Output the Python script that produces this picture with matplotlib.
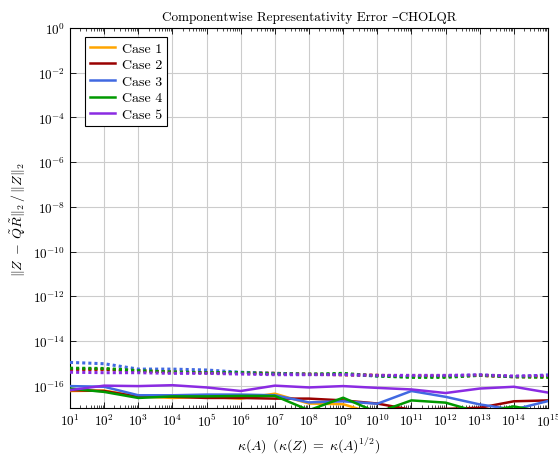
import matplotlib
matplotlib.use("Agg")
import matplotlib.pyplot as plt
import numpy as np

plt.rcParams["font.family"] = ["cmr10", "DejaVu Serif"]
plt.rcParams["mathtext.fontset"] = "cm"
plt.rcParams["axes.formatter.use_mathtext"] = True
plt.rcParams["axes.unicode_minus"] = False

# condition numbers kappa(A) = 10^1 ... 10^15
kappa_exp = np.arange(1, 16)

labels = ["Case 1", "Case 2", "Case 3", "Case 4", "Case 5"]
colors = ["#ffa500", "#990000", "#4169e1", "#009900", "#8a2be2"]

# log10 of the error, solid lines (CholQR)
solid_case1 = [-16.24, -16.22, -16.48, -16.55, -16.50, -16.58, -16.36, -16.80, -16.83, -17.30, -17.30, -17.30, -17.30, -17.30, -17.30]
solid_case2 = [-16.20, -16.24, -16.50, -16.50, -16.55, -16.55, -16.58, -16.58, -16.66, -16.80, -17.08, -17.04, -16.99, -16.70, -16.66]
solid_case3 = [-16.02, -16.05, -16.43, -16.43, -16.40, -16.40, -16.43, -16.75, -16.70, -16.81, -16.24, -16.50, -16.84, -17.07, -16.69]
solid_case4 = [-16.13, -16.28, -16.55, -16.48, -16.48, -16.46, -16.46, -17.10, -16.54, -17.20, -16.66, -16.76, -17.20, -16.93, -17.20]
solid_case5 = [-16.20, -16.00, -16.02, -15.98, -16.08, -16.24, -16.00, -16.08, -16.02, -16.10, -16.17, -16.33, -16.13, -16.05, -16.31]

# log10 of the error, dotted lines
dotted_case1 = [-15.27, -15.27, -15.33, -15.39, -15.42, -15.42, -15.45, -15.49, -15.51, -15.54, -15.57, -15.57, -15.54, -15.60, -15.60]
dotted_case2 = [-15.27, -15.27, -15.33, -15.39, -15.42, -15.42, -15.45, -15.49, -15.51, -15.54, -15.57, -15.57, -15.54, -15.60, -15.60]
dotted_case3 = [-14.96, -15.02, -15.26, -15.26, -15.30, -15.40, -15.45, -15.49, -15.49, -15.57, -15.60, -15.57, -15.52, -15.60, -15.52]
dotted_case4 = [-15.22, -15.23, -15.33, -15.39, -15.42, -15.42, -15.48, -15.49, -15.45, -15.57, -15.63, -15.63, -15.54, -15.60, -15.63]
dotted_case5 = [-15.40, -15.42, -15.42, -15.45, -15.45, -15.48, -15.51, -15.51, -15.51, -15.54, -15.54, -15.54, -15.52, -15.57, -15.54]

solid = [solid_case1, solid_case2, solid_case3, solid_case4, solid_case5]
dotted = [dotted_case1, dotted_case2, dotted_case3, dotted_case4, dotted_case5]

x = 10.0 ** kappa_exp

fig = plt.figure(figsize=(5.58, 4.56), dpi=100)
ax = fig.add_axes([70 / 558, 1 - 409 / 456, 478 / 558, 380 / 456])

for d, c in zip(dotted, colors):
    ax.plot(x, 10.0 ** np.array(d), color=c, lw=2.2, ls=(0, (1.0, 1.0)), zorder=3)
for s, c, lab in zip(solid, colors, labels):
    ax.plot(x, 10.0 ** np.array(s), color=c, lw=1.8, label=lab, zorder=4)

ax.set_xscale("log")
ax.set_yscale("log")
ax.set_xlim(1e1, 1e15)
ax.set_ylim(1e-17, 1e0)
ax.set_xticks(10.0 ** np.arange(1, 16))
ax.set_yticks(10.0 ** np.arange(-16, 1, 2))
ax.yaxis.set_minor_locator(matplotlib.ticker.NullLocator())
ax.xaxis.set_minor_locator(matplotlib.ticker.LogLocator(base=10, subs=np.arange(2, 10), numticks=100))
ax.xaxis.set_minor_formatter(matplotlib.ticker.NullFormatter())

ax.grid(True, which="major", color="#cccccc", lw=0.8)
ax.set_axisbelow(True)
ax.tick_params(which="both", direction="in", top=True, right=True, labelsize=9.5)
ax.tick_params(which="major", length=4, width=0.6)
ax.tick_params(which="minor", length=2.5, width=0.5)
for sp in ax.spines.values():
    sp.set_linewidth(0.8)

ax.set_title("Componentwise Representativity Error \u2013CHOLQR", fontsize=9.5, pad=6)
ax.set_xlabel(r"$\kappa(A)\;\;(\kappa(Z)\;=\;\kappa(A)^{1/2})$", fontsize=10)
ax.set_ylabel(r"$\|Z\;-\;\tilde{Q}\tilde{R}\|_2\,/\,\|Z\|_2$", fontsize=10)

leg = ax.legend(loc="upper left", bbox_to_anchor=(15 / 478, 1 - 9 / 380), borderaxespad=0,
                fontsize=10, fancybox=False, edgecolor="black", framealpha=1,
                handlelength=1.8, borderpad=0.35, labelspacing=0.28, handletextpad=0.5)
leg.get_frame().set_linewidth(0.8)

fig.savefig("out.png", dpi=100)
